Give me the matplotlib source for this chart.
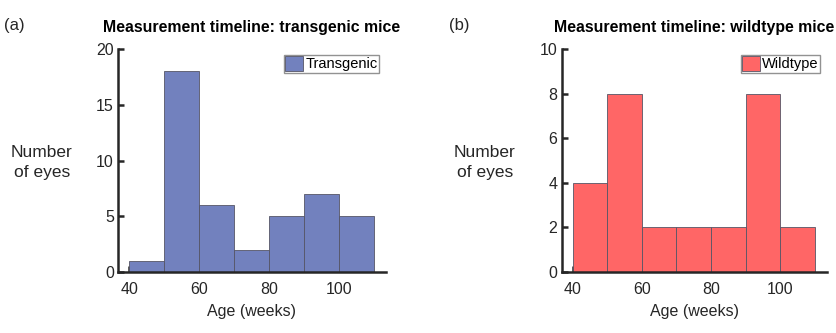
import numpy as np
import matplotlib.pyplot as plt

# Histogram counts (bin width 10 weeks)
bin_edges = [40, 50, 60, 70, 80, 90, 100, 110]
transgenic_counts = [1, 18, 6, 2, 5, 7, 5]
wildtype_counts = [4, 8, 2, 2, 2, 8, 2]

xticks = [40, 60, 80, 100]
transgenic_yticks = [0, 5, 10, 15, 20]
wildtype_yticks = [0, 2, 4, 6, 8, 10]

plt.rcParams['font.family'] = ['Liberation Sans', 'DejaVu Sans']
text_color = '#262626'

fig = plt.figure(figsize=(8.37, 3.33), dpi=100)


def draw_panel(rect, counts, color, label, title, yticks, tag, ylab_x):
    ax = fig.add_axes(rect)
    left = np.array(bin_edges[:-1])
    ax.bar(left, counts, width=np.diff(bin_edges), align='edge',
           color=color, edgecolor='#555566', linewidth=0.6, label=label,
           zorder=2)
    ax.set_xlim(36.8, 113.5)
    ax.set_ylim(yticks[0], yticks[-1])
    ax.set_xticks(xticks)
    ax.set_yticks(yticks)
    for side in ['top', 'right']:
        ax.spines[side].set_visible(False)
    for side in ['left', 'bottom']:
        ax.spines[side].set_linewidth(1.8)
        ax.spines[side].set_color(text_color)
        ax.spines[side].set_zorder(3)
    ax.tick_params(direction='in', length=4, width=1.8, colors=text_color,
                   labelsize=11.5)
    ax.tick_params(axis='x', pad=7)
    ax.tick_params(axis='y', pad=3)
    ax.set_xlabel('Age (weeks)', fontsize=11.5, color=text_color, labelpad=5)
    ax.set_ylabel('Number\nof eyes', fontsize=12.5, color=text_color,
                  rotation=0, ha='center', va='center', multialignment='center',
                  linespacing=1.45)
    ax.yaxis.set_label_coords(ylab_x, 0.49)
    ax.set_title(title, fontsize=11.4, fontweight='bold', color='black', pad=12)
    ax.text(-0.425, 1.105, tag, transform=ax.transAxes, fontsize=12,
            color=text_color, ha='left', va='center')
    leg = ax.legend(loc='upper right', bbox_to_anchor=(0.975, 0.975),
                    borderaxespad=0, fancybox=False, frameon=True,
                    fontsize=10.5, handlelength=1.2, handleheight=1.15,
                    handletextpad=0.15, borderpad=0.12)
    leg.get_frame().set_edgecolor('#777777')
    leg.get_frame().set_linewidth(1.0)
    return ax


draw_panel([0.141, 0.183, 0.32, 0.67], transgenic_counts, '#7281BE',
           'Transgenic', 'Measurement timeline: transgenic mice',
           transgenic_yticks, '(a)', -0.285)
draw_panel([0.671, 0.183, 0.317, 0.67], wildtype_counts, '#FF6666',
           'Wildtype', 'Measurement timeline: wildtype mice',
           wildtype_yticks, '(b)', -0.29)

fig.savefig('out.png', dpi=100)
